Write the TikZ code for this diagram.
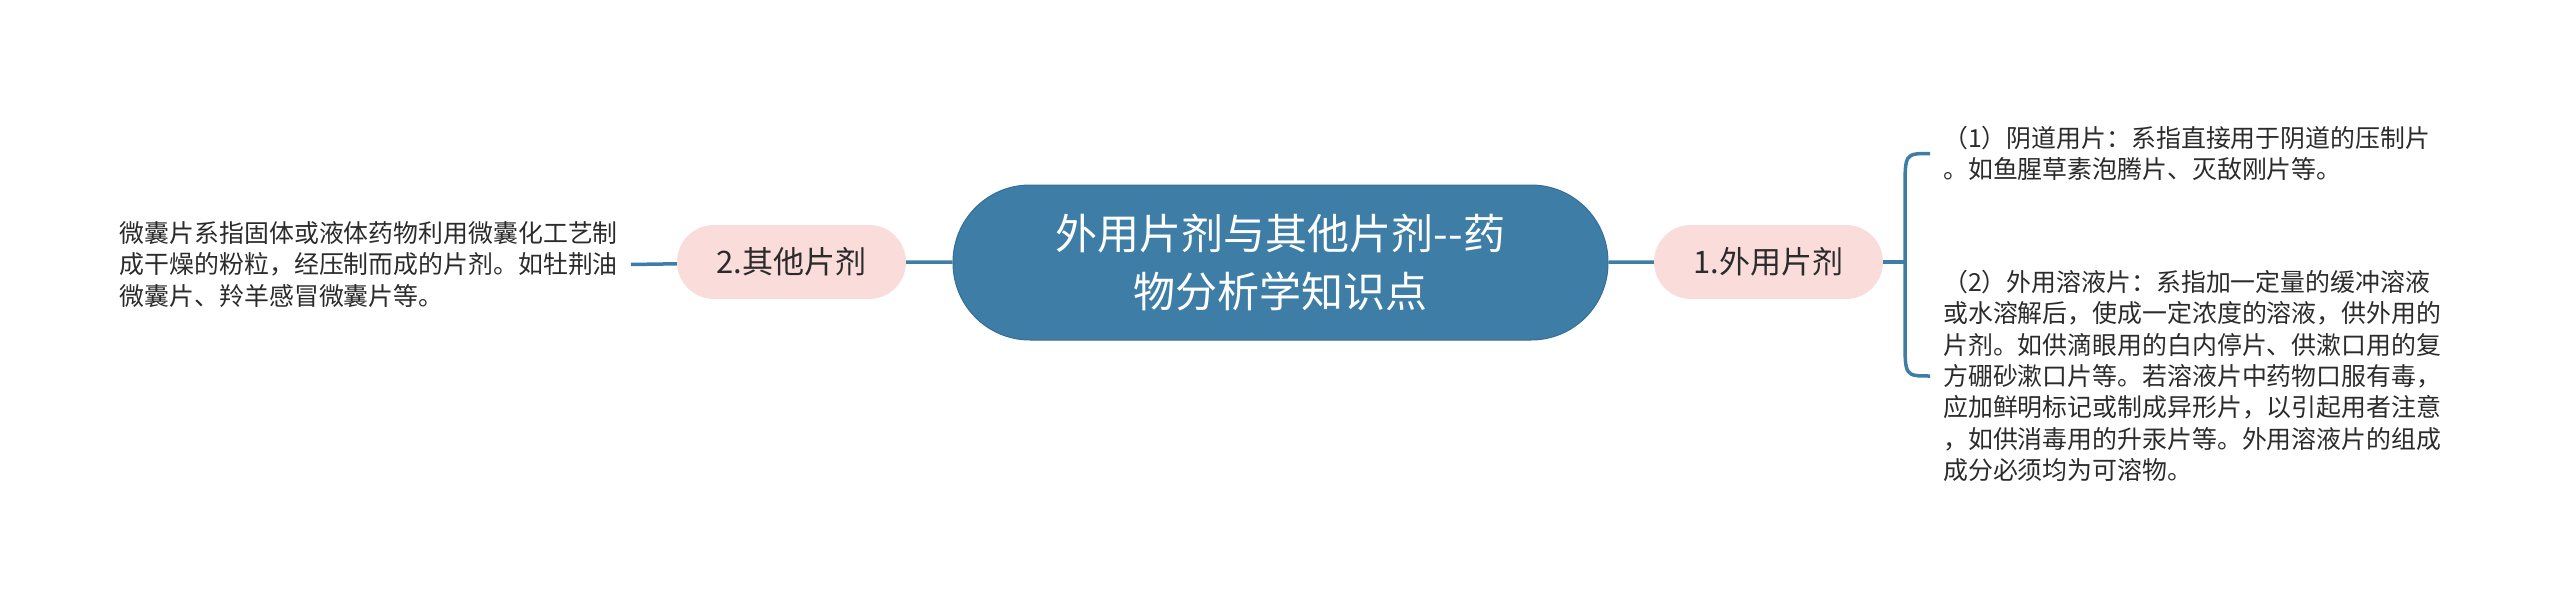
\documentclass[tikz,border=0pt]{standalone}
\usepackage{fontspec}
\setmainfont{Noto Sans CJK SC}
\usepackage{tikz}
\usetikzlibrary{arrows}
\usepackage{xcolor}
\definecolor{rootblue}{HTML}{3E7EA6}
\definecolor{rootedge}{HTML}{356F95}
\definecolor{subpink}{HTML}{FADCDB}
\definecolor{txt}{HTML}{2B2B2B}

\begin{document}
\begin{tikzpicture}[x=1pt,y=-1pt]
   \tikzstyle{root} = [draw=rootedge,line width=1pt,fill=rootblue,text=white,
     rounded corners=77pt,minimum width=655pt,minimum height=155pt,
     align=center,font=\fontsize{42}{58}\selectfont]
   \tikzstyle{sub} = [fill=subpink,text=txt,rounded corners=37pt,
     minimum width=229pt,minimum height=74pt,
     font=\fontsize{31}{37}\selectfont]
   \tikzstyle{leaf} = [inner sep=0pt,align=left,text=txt,
     font=\fontsize{24.9}{31.3}\selectfont]
   \tikzstyle{link} = [draw=rootblue,line width=3.5pt]
   \useasboundingbox (0,0) rectangle (2560,605);
    %%
    \node [root] (root) at (1280.5,262.5) {外用片剂与其他片剂-{}-药\\物分析学知识点};
    \node [sub] (n1) at (1768.5,262) {1.外用片剂};
    \node [sub] (n2) at (791.5,262) {2.其他片剂};
    \path [link] (root) -- (n1); \path [link] (root) -- (n2);
    %%
    \begin{scope}
      \node [leaf,anchor=west] (t11) at (1943,153.5)
        {（1）阴道用片：系指直接用于阴道的压制片\\。如鱼腥草素泡腾片、灭敌刚片等。};
      \node [leaf,anchor=west] (t12) at (1943,376)
        {（2）外用溶液片：系指加一定量的缓冲溶液\\
         或水溶解后，使成一定浓度的溶液，供外用的\\
         片剂。如供滴眼用的白内停片、供漱口用的复\\
         方硼砂漱口片等。若溶液片中药物口服有毒，\\
         应加鲜明标记或制成异形片，以引起用者注意\\
         ，如供消毒用的升汞片等。外用溶液片的组成\\
         成分必须均为可溶物。};
      \coordinate (b) at (1905,262);
      \coordinate (bt) at ([xshift=-13pt]t11.west);
      \coordinate (bb) at ([xshift=-13pt]t12.west);
      \path [link] (n1) -- (b);
      \path [link] (b) -- (1905,190) .. controls (1905,153.5) .. (bt);
      \path [link] (b) -- (1905,339) .. controls (1905,376) .. (bb);
    \end{scope}
    %%
    \begin{scope}
      \node [leaf,anchor=east] (t21) at (618,264.5)
        {微囊片系指固体或液体药物利用微囊化工艺制\\
         成干燥的粉粒，经压制而成的片剂。如牡荆油\\
         微囊片、羚羊感冒微囊片等。};
      \path [link] (n2) -- ([xshift=13pt]t21.east);
    \end{scope}
  \end{tikzpicture}
\end{document}
